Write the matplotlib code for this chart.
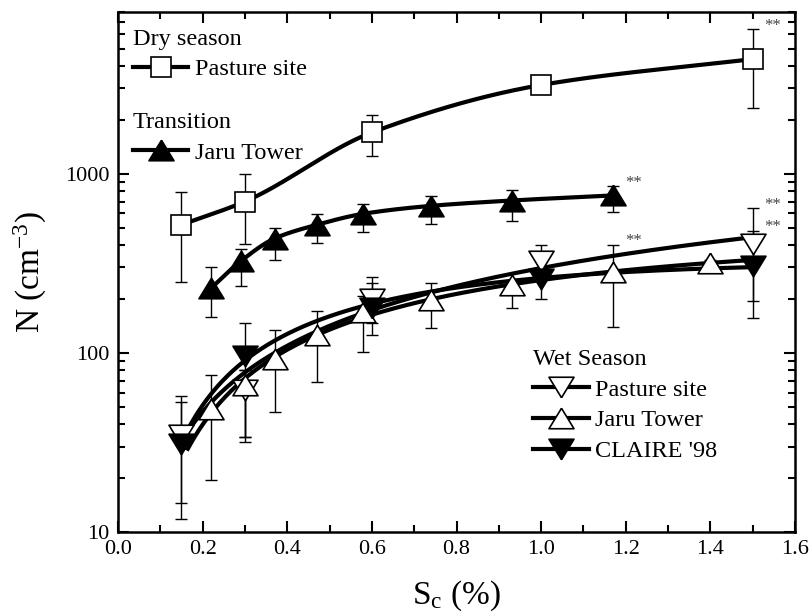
import numpy as np
import matplotlib
matplotlib.use('Agg')
import matplotlib.pyplot as plt
from matplotlib.ticker import MultipleLocator, LogLocator, NullFormatter, FixedFormatter, FixedLocator

plt.rcParams['font.family'] = 'Liberation Serif'
plt.rcParams['mathtext.fontset'] = 'custom'
plt.rcParams['mathtext.rm'] = 'Liberation Serif'

# dry season, pasture site
dry_s = [0.15, 0.30, 0.60, 1.00, 1.50]
dry_n = [519, 700, 1700, 3130, 4370]
dry_lo = [250, 405, 1260, 3000, 2330]
dry_hi = [787, 1000, 2140, 3260, 6400]

# transition, Jaru Tower
tra_s = [0.22, 0.29, 0.37, 0.47, 0.58, 0.74, 0.93, 1.17]
tra_n = [230, 325, 435, 519, 598, 662, 709, 757]
tra_lo = [158, 237, 329, 410, 472, 525, 548, 611]
tra_hi = [302, 380, 500, 596, 680, 747, 814, 849]

# wet season, pasture site
wp_s = [0.15, 0.30, 0.60, 1.00, 1.50]
wp_n = [35, 62, 201, 324, 404]
wp_lo = [11.8, 31.7, 147, 280, 195]
wp_hi = [57.5, 80, 265, 401, 643]

# wet season, Jaru Tower
wj_s = [0.22, 0.30, 0.37, 0.47, 0.58, 0.74, 0.93, 1.17, 1.40]
wj_n = [48.6, 66, 93, 126, 170, 198, 240, 282, 317]
wj_lo = [19.5, 34, 47, 69, 101, 137, 178, 139, 305]
wj_hi = [75, 80, 134, 172, 209, 245, 255, 401, 330]

# wet season, CLAIRE '98
cl_s = [0.15, 0.30, 0.60, 1.00, 1.50]
cl_n = [31, 96.6, 179, 259, 307]
cl_lo = [14.6, 34, 126, 200, 156]
cl_hi = [53.5, 147, 245, 338, 482]

# points flagged with ** (series, index)
star_pts = [(dry_s, dry_hi, 4), (tra_s, tra_hi, 7), (wj_s, wj_hi, 7),
            (wp_s, wp_hi, 4), (cl_s, cl_hi, 4)]


def pchip(x, y, xs):
    x = np.asarray(x, float)
    y = np.asarray(y, float)
    h = np.diff(x)
    d = np.diff(y) / h
    m = np.zeros_like(y)
    m[0], m[-1] = d[0], d[-1]
    for k in range(1, len(x) - 1):
        if d[k - 1] * d[k] > 0:
            w1 = 2 * h[k] + h[k - 1]
            w2 = h[k] + 2 * h[k - 1]
            m[k] = (w1 + w2) / (w1 / d[k - 1] + w2 / d[k])
    idx = np.clip(np.searchsorted(x, xs) - 1, 0, len(x) - 2)
    t = (xs - x[idx]) / h[idx]
    h00 = 2 * t**3 - 3 * t**2 + 1
    h10 = t**3 - 2 * t**2 + t
    h01 = -2 * t**3 + 3 * t**2
    h11 = t**3 - t**2
    return h00 * y[idx] + h10 * h[idx] * m[idx] + h01 * y[idx + 1] + h11 * h[idx] * m[idx + 1]


# slightly flattened triangles, closed paths
up = [(0, 0.82), (-1, -0.82), (1, -0.82), (0, 0.82)]
down = [(0, -0.82), (-1, 0.82), (1, 0.82), (0, -0.82)]

fig = plt.figure(figsize=(8.1, 6.16), dpi=100)
ax = fig.add_axes([0.1457, 0.1364, 0.8358, 0.8441])

lw = 3
ms_t = 18
ms_s = 14

# smooth connecting curves through dry / transition points
xs = np.linspace(dry_s[0], dry_s[-1], 300)
ax.plot(xs, 10**pchip(dry_s, np.log10(dry_n), xs), color='black', lw=lw, zorder=2)
xs = np.linspace(tra_s[0], tra_s[-1], 300)
ax.plot(xs, 10**pchip(tra_s, np.log10(tra_n), xs), color='black', lw=lw, zorder=2)

# fitted curves for wet season
xf = np.linspace(0.165, 1.5, 300)
for s, n in [(wp_s, wp_n), (wj_s, wj_n), (cl_s, cl_n)]:
    c = np.polyfit(np.log(s), np.log10(n), 2)
    ax.plot(xf, 10**np.polyval(c, np.log(xf)), color='black', lw=lw, zorder=2)

series = [
    (dry_s, dry_n, dry_lo, dry_hi, 's', 'white', ms_s),
    (tra_s, tra_n, tra_lo, tra_hi, up, 'black', ms_t),
    (wp_s, wp_n, wp_lo, wp_hi, down, 'white', ms_t),
    (wj_s, wj_n, wj_lo, wj_hi, up, 'white', ms_t),
    (cl_s, cl_n, cl_lo, cl_hi, down, 'black', ms_t),
]
for s, n, lo, hi, mk, fc, ms in series:
    n = np.array(n)
    ax.errorbar(s, n, yerr=[n - np.array(lo), np.array(hi) - n], fmt='none',
                ecolor='black', elinewidth=1, capsize=4.3, capthick=1, zorder=1)
    ax.plot(s, n, linestyle='none', marker=mk, ms=ms, mfc=fc, mec='black',
            mew=1.2, zorder=3)

for s, hi, i in star_pts:
    ax.annotate('**', xy=(s[i], hi[i]), xytext=(8.5, 2.5), textcoords='offset points',
                ha='left', va='center', fontsize=12, color='#444444')

# legends
def handle(mk, fc, ms):
    return plt.Line2D([], [], color='black', lw=lw, marker=mk, ms=ms, mfc=fc,
                      mec='black', mew=1.2)

leg_kw = dict(frameon=False, fontsize=17.5, title_fontsize=17.5, alignment='left',
              loc='upper left', borderpad=0, borderaxespad=0, handlelength=2.3,
              handletextpad=0.25, labelspacing=0.36)
l1 = ax.legend([handle('s', 'white', ms_s)], ['Pasture site'], title='Dry season',
               bbox_to_anchor=(0.0215, 0.968), **leg_kw)
ax.add_artist(l1)
l2 = ax.legend([handle(up, 'black', ms_t)], ['Jaru Tower'], title='Transition',
               bbox_to_anchor=(0.0215, 0.808), **leg_kw)
ax.add_artist(l2)
ax.legend([handle(down, 'white', ms_t), handle(up, 'white', ms_t), handle(down, 'black', ms_t)],
          ['Pasture site', 'Jaru Tower', "CLAIRE '98"], title='Wet Season',
          bbox_to_anchor=(0.613, 0.352), **leg_kw)

ax.set_yscale('log')
ax.set_xlim(0.0, 1.6)
ax.set_ylim(10, 8000)
ax.xaxis.set_major_locator(MultipleLocator(0.2))
ax.xaxis.set_minor_locator(MultipleLocator(0.1))
ax.xaxis.set_major_formatter(plt.FuncFormatter(lambda v, p: f'{v:.1f}'))
ax.yaxis.set_major_locator(FixedLocator([10, 100, 1000]))
ax.yaxis.set_major_formatter(FixedFormatter(['10', '100', '1000']))
ax.yaxis.set_minor_locator(LogLocator(base=10, subs=np.arange(2, 10)))
ax.yaxis.set_minor_formatter(NullFormatter())

ax.tick_params(which='both', direction='in', top=True, right=True, labelsize=16, width=1.5)
ax.tick_params(which='major', length=8)
ax.tick_params(which='minor', length=5)
ax.tick_params(axis='x', pad=6)
ax.tick_params(axis='y', pad=6)
for sp in ax.spines.values():
    sp.set_linewidth(1.8)

ax.set_xlabel(r'$\mathregular{S_c}$ (%)', fontsize=24, labelpad=14)
ax.set_ylabel(r'N (cm$\mathregular{^{-3}}$)', fontsize=24, labelpad=12)

fig.savefig('out.png', dpi=100)
